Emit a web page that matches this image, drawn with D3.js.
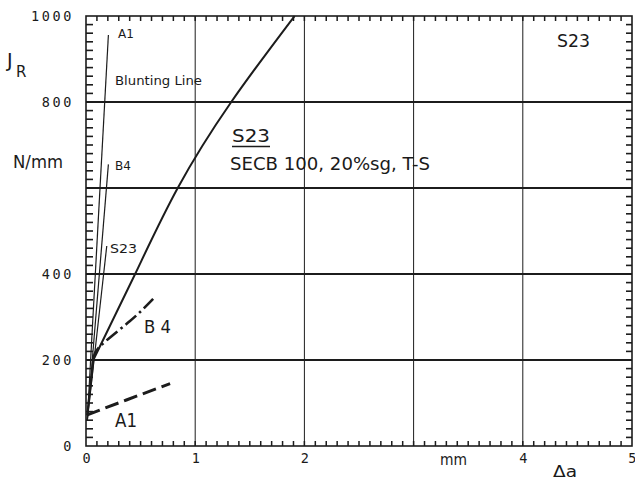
<!DOCTYPE html>
<html>
<head>
<meta charset="utf-8">
<script src="https://cdn.jsdelivr.net/npm/d3@7"></script>
<style>
  html, body { margin: 0; padding: 0; background: #fff; }
  svg { display: block; }
  text { fill: #1a1a1a; font-family: "DejaVu Sans", sans-serif; }
  .mono { font-family: "DejaVu Sans Mono", monospace; }
</style>
</head>
<body>
<svg id="chart" width="635" height="482"></svg>
<script>
// ---- data ----
const xTickValues = [0, 1, 2, 3, 4, 5];
const xTickLabels = ["0", "1", "2", "", "4", "5"];
const yTickValues = [0, 200, 400, 600, 800, 1000];
const yTickLabels = ["0", "200", "400", "", "800", "1000"];
const xGrid = [1, 2, 3, 4];
const yGrid = [200, 400, 600, 800];

// J_R curves (delta a in mm, J in N/mm)
const curveS23Low = [[0.012, 72], [0.067, 200]];
const curveS23 = [[0.067, 200], [0.45, 400], [0.84, 600], [1.33, 800], [1.91, 1000]];
const curveB4  = [[0.067, 200], [0.13, 232], [0.40, 290], [0.615, 342]];
const curveA1  = [[0.006, 72], [0.37, 107], [0.77, 145]];

// blunting lines
const bluntA1  = [[0.012, 60], [0.205, 956]];
const bluntB4  = [[0.012, 60], [0.205, 655]];
const bluntS23 = [[0.012, 60], [0.19, 465]];

// ---- drawing ----
const svg = d3.select("#chart");
const x = d3.scaleLinear().domain([0, 5]).range([86, 632]);
const y = d3.scaleLinear().domain([0, 1000]).range([446, 16]);
const ink = "#1c1c1c";

// grid
svg.append("g").selectAll("line").data(xGrid).join("line")
  .attr("x1", d => x(d)).attr("x2", d => x(d))
  .attr("y1", y(1000)).attr("y2", y(0))
  .attr("stroke", ink).attr("stroke-width", 1);
svg.append("g").selectAll("line").data(yGrid).join("line")
  .attr("x1", x(0)).attr("x2", x(5))
  .attr("y1", d => y(d)).attr("y2", d => y(d))
  .attr("stroke", ink).attr("stroke-width", 2);

// frame
svg.append("rect").attr("x", x(0)).attr("y", y(1000))
  .attr("width", x(5) - x(0)).attr("height", y(0) - y(1000))
  .attr("fill", "none").attr("stroke", ink).attr("stroke-width", 1.6);

// minor ticks (inward), drawn as small filled rects
const xMinor = d3.range(1, 50).map(i => i / 10);
const yMinor = d3.range(1, 50).map(i => i * 20);
const tk = svg.append("g").attr("class", "minor-ticks");
tk.selectAll("rect.xb").data(xMinor).join("rect").attr("class", "xb")
  .attr("x", d => x(d) - 0.75).attr("y", y(0) - 5).attr("width", 1.5).attr("height", 5)
  .attr("fill", ink);
tk.selectAll("rect.xt").data(xMinor).join("rect").attr("class", "xt")
  .attr("x", d => x(d) - 0.75).attr("y", y(1000)).attr("width", 1.5).attr("height", 5)
  .attr("fill", ink);
tk.selectAll("rect.yl").data(yMinor).join("rect").attr("class", "yl")
  .attr("x", x(0)).attr("y", d => y(d) - 0.8).attr("width", 7).attr("height", 1.6)
  .attr("fill", ink);
tk.selectAll("rect.yr").data(yMinor).join("rect").attr("class", "yr")
  .attr("x", x(5) - 6).attr("y", d => y(d) - 0.8).attr("width", 6).attr("height", 1.6)
  .attr("fill", ink);

// tick labels
const yLab = svg.append("g").attr("transform", `translate(${x(0)},0)`)
  .call(d3.axisLeft(y).tickValues(yTickValues).tickSize(0).tickPadding(12)
    .tickFormat((d, i) => yTickLabels[i]));
yLab.select(".domain").remove();
yLab.selectAll("text").attr("class", "mono").attr("font-size", 13.5)
  .attr("letter-spacing", 2.6).attr("fill", ink);

const xLab = svg.append("g").attr("transform", `translate(0,${y(0)})`)
  .call(d3.axisBottom(x).tickValues(xTickValues).tickSize(0).tickPadding(7)
    .tickFormat((d, i) => xTickLabels[i]));
xLab.select(".domain").remove();
xLab.selectAll("text").attr("class", "mono").attr("font-size", 13.5).attr("fill", ink);
xLab.selectAll("text").filter(d => d === 5).attr("text-anchor", "end").attr("dx", 4);

// lines
const line = d3.line().x(d => x(d[0])).y(d => y(d[1]));
const smooth = d3.line().x(d => x(d[0])).y(d => y(d[1])).curve(d3.curveNatural);

[bluntA1, bluntB4, bluntS23].forEach(b => {
  svg.append("path").datum(b).attr("d", line)
    .attr("fill", "none").attr("stroke", ink).attr("stroke-width", 1.2);
});

svg.append("path").datum(curveS23Low).attr("d", line)
  .attr("fill", "none").attr("stroke", ink).attr("stroke-width", 2.2);
svg.append("path").datum(curveS23).attr("d", smooth)
  .attr("fill", "none").attr("stroke", ink).attr("stroke-width", 2);
svg.append("path").datum(curveB4).attr("d", smooth)
  .attr("fill", "none").attr("stroke", ink).attr("stroke-width", 2.6)
  .attr("stroke-dasharray", "14,4,2.5,4");
svg.append("path").datum(curveA1).attr("d", line)
  .attr("fill", "none").attr("stroke", ink).attr("stroke-width", 3)
  .attr("stroke-dasharray", "14,6");

// texts
function txt(str, px, py, size, opts = {}) {
  const t = svg.append("text").attr("x", px).attr("y", py)
    .attr("font-size", size).text(str);
  if (opts.ls) t.attr("letter-spacing", opts.ls);
  if (opts.len) t.attr("textLength", opts.len).attr("lengthAdjust", "spacingAndGlyphs");
  return t;
}
txt("J", 7, 67, 19);
txt("R", 16, 77, 15);
txt("N/mm", 13, 168, 17, { len: 50 });
txt("A1", 118, 38, 12);
txt("Blunting Line", 115, 85, 12, { len: 87 });
txt("B4", 115, 170, 12);
txt("S23", 110, 253, 12, { len: 27 });
txt("S23", 232, 142, 18, { len: 38 });
svg.append("line").attr("x1", 232).attr("x2", 270).attr("y1", 146.5).attr("y2", 146.5)
  .attr("stroke", ink).attr("stroke-width", 1.3);
txt("SECB 100, 20%sg, T-S", 230, 170, 17, { len: 200 });
txt("S23", 557, 47, 17, { len: 33 });
txt("B 4", 144, 333, 18, { len: 27 });
txt("A1", 115, 427, 19, { len: 22 });
txt("mm", 440, 465, 16, { len: 27 });
txt("Δa", 553, 477, 16, { len: 24 });
</script>
</body>
</html>
